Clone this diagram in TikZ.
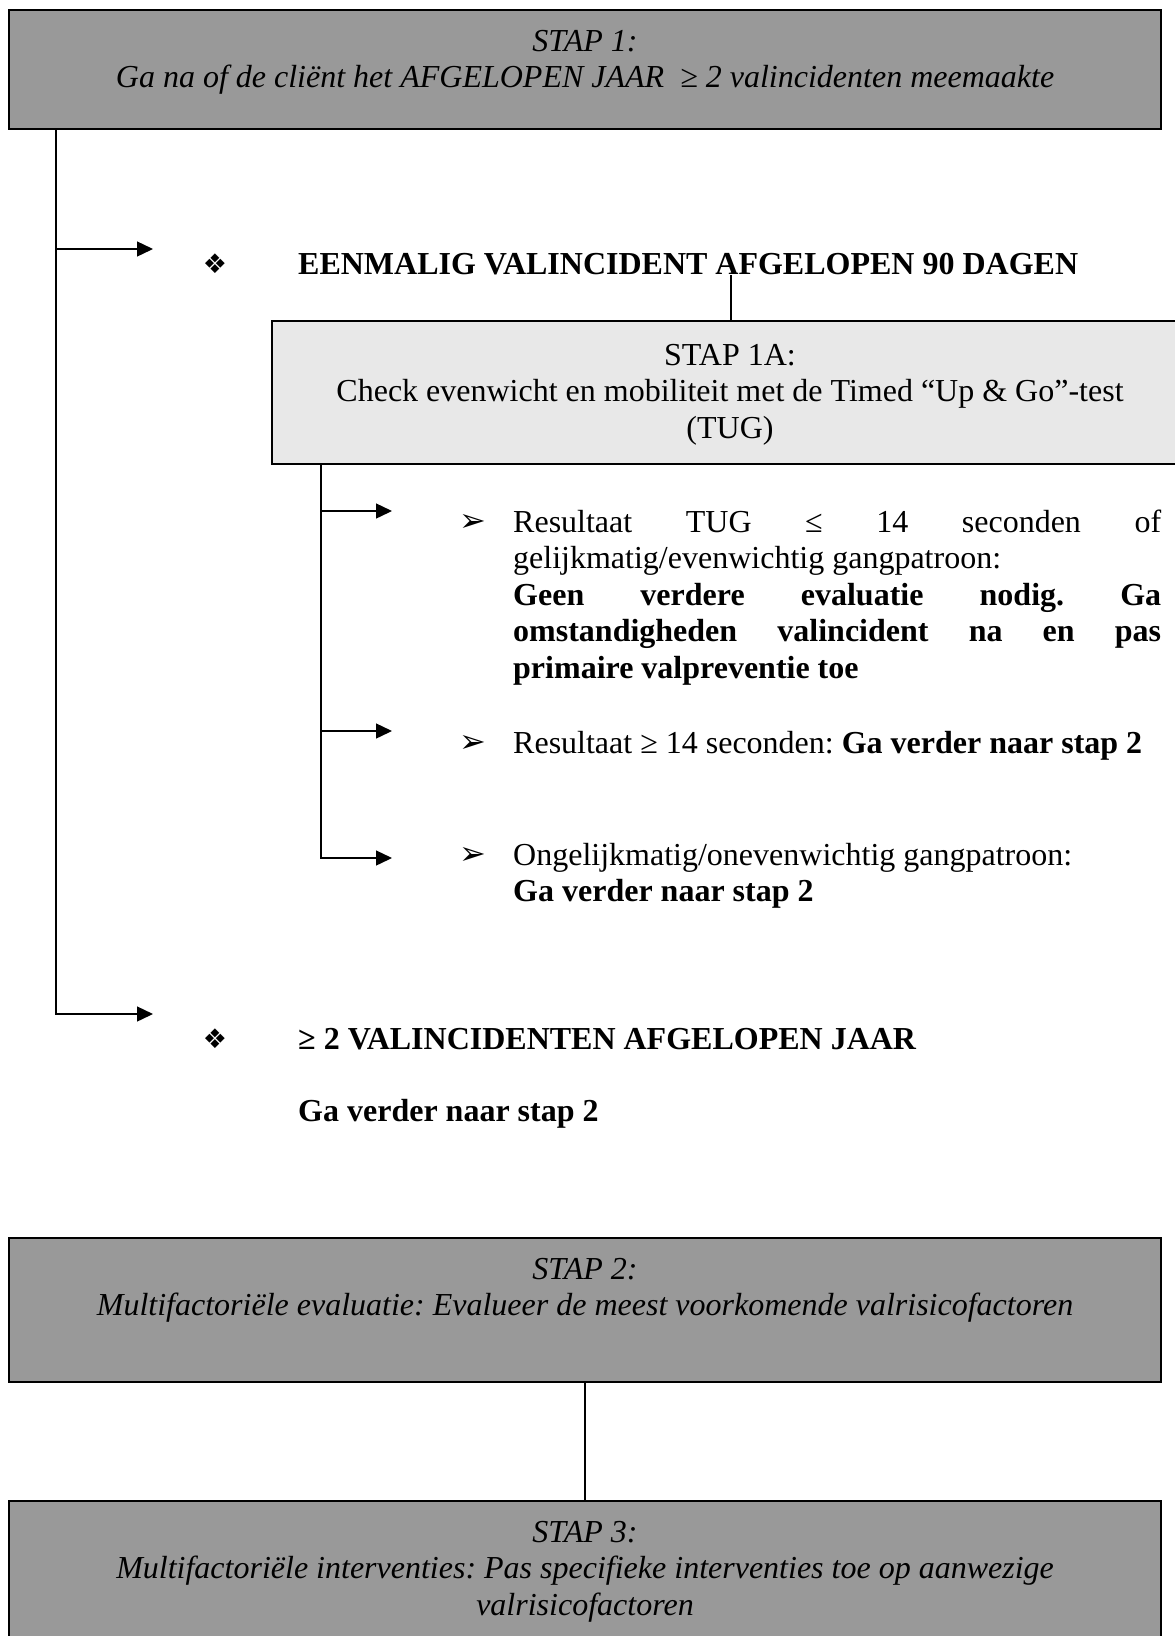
\documentclass[tikz,border=0pt]{standalone}
\usepackage{fontspec}
\setmainfont{Liberation Serif}
\newfontfamily\dingfont{DejaVu Sans}
\usetikzlibrary{arrows.meta}
\definecolor{darkfill}{gray}{0.6}
\definecolor{lightfill}{gray}{0.91}
\newcommand\bodyfs{\fontsize{32}{36.5}\selectfont\frenchspacing}
\tikzset{
  darkbox/.style={draw, line width=2pt, fill=darkfill, rectangle, inner sep=0},
  lightbox/.style={draw, line width=2pt, fill=lightfill, rectangle, inner sep=0},
  txt/.style={inner sep=0, anchor=base, font=\bodyfs},
  txtw/.style={inner sep=0, anchor=base west, font=\bodyfs},
  conn/.style={line width=1.4pt},
  arr/.style={conn, -{Triangle[length=16pt,width=15pt]}},
  bul/.style={inner sep=0, anchor=base, font=\dingfont\fontsize{27}{30}\selectfont},
  arrbul/.style={inner sep=0, anchor=base, font=\dingfont\fontsize{32}{34}\selectfont},
}
\begin{document}
\begin{tikzpicture}[x=1pt,y=-1pt]
\useasboundingbox (0,0) rectangle (1175,1636);
\fill[white] (0,0) rectangle (1175,1636);

% boxes
\node[darkbox, minimum width=1152pt, minimum height=119pt] (s1) at (585,69.5) {};
\node[lightbox, minimum width=918pt, minimum height=143pt] (s1a) at (731,392.5) {};
\node[darkbox, minimum width=1152pt, minimum height=144pt] (s2) at (585,1310) {};
\node[darkbox, minimum width=1152pt, minimum height=179pt] (s3) at (585,1590.5) {};

% box texts
\node[txt] (s1t) at (585,51) {\parbox[t]{1140pt}{\centering\itshape STAP 1:\\Ga na of de cliënt het AFGELOPEN JAAR \ ≥ 2 valincidenten meemaakte}};
\node[txt] (s1at) at (730,365) {\parbox[t]{900pt}{\centering STAP 1A:\\Check evenwicht en mobiliteit met de Timed “Up \& Go”-test\\(TUG)}};
\node[txt] (s2t) at (585,1279) {\parbox[t]{1140pt}{\centering\itshape STAP 2:\\Multifactoriële evaluatie: Evalueer de meest voorkomende valrisicofactoren}};
\node[txt] (s3t) at (585,1542) {\parbox[t]{1140pt}{\centering\itshape STAP 3:\\Multifactoriële interventies: Pas specifieke interventies toe op aanwezige\\valrisicofactoren}};

% headings
\node[bul] (b1) at (215,273) {❖};
\node[txtw] (h1) at (298,274) {\bfseries EENMALIG VALINCIDENT AFGELOPEN 90 DAGEN};
\node[bul] (b2) at (215,1048) {❖};
\node[txtw] (h2) at (298,1049) {\bfseries ≥ 2 VALINCIDENTEN AFGELOPEN JAAR};
\node[txtw] (h3) at (298,1121) {\bfseries Ga verder naar stap 2};

% items
\node[arrbul] (i1b) at (473,531) {➢};
\node[txtw] (i1) at (513,532) {\parbox[t]{648pt}{\makebox[648pt][s]{Resultaat TUG ≤ 14 seconden of}\\
gelijkmatig/evenwichtig gangpatroon:\\
\bfseries\makebox[648pt][s]{Geen verdere evaluatie nodig. Ga}\\
\makebox[648pt][s]{omstandigheden valincident na en pas}\\
primaire valpreventie toe}};
\node[arrbul] (i2b) at (473,752) {➢};
\node[txtw] (i2) at (513,753) {Resultaat ≥ 14 seconden: \textbf{Ga verder naar stap 2}};
\node[arrbul] (i3b) at (473,864) {➢};
\node[txtw] (i3) at (513,865) {\parbox[t]{648pt}{Ongelijkmatig/onevenwichtig gangpatroon:\\\bfseries Ga verder naar stap 2}};

% connectors
\coordinate (j1) at (56,249);
\coordinate (j2) at (56,1014);
\coordinate (t1) at (153,249);
\coordinate (t2) at (153,1014);
\draw[arr] (s1.south -| j2) -- (j2) -- (t2);
\draw[arr] (j1) -- (t1);

\draw[conn] (s1a.north) -- (s1a.north |- h1.south);

\coordinate (k1) at (321,511);
\coordinate (k2) at (321,731);
\coordinate (k3) at (321,858);
\coordinate (u1) at (392,511);
\coordinate (u2) at (392,731);
\coordinate (u3) at (392,858);
\draw[arr] (s1a.south -| k3) -- (k3) -- (u3);
\draw[arr] (k1) -- (u1);
\draw[arr] (k2) -- (u2);

\draw[conn] (s2.south) -- (s3.north);
\end{tikzpicture}
\end{document}
